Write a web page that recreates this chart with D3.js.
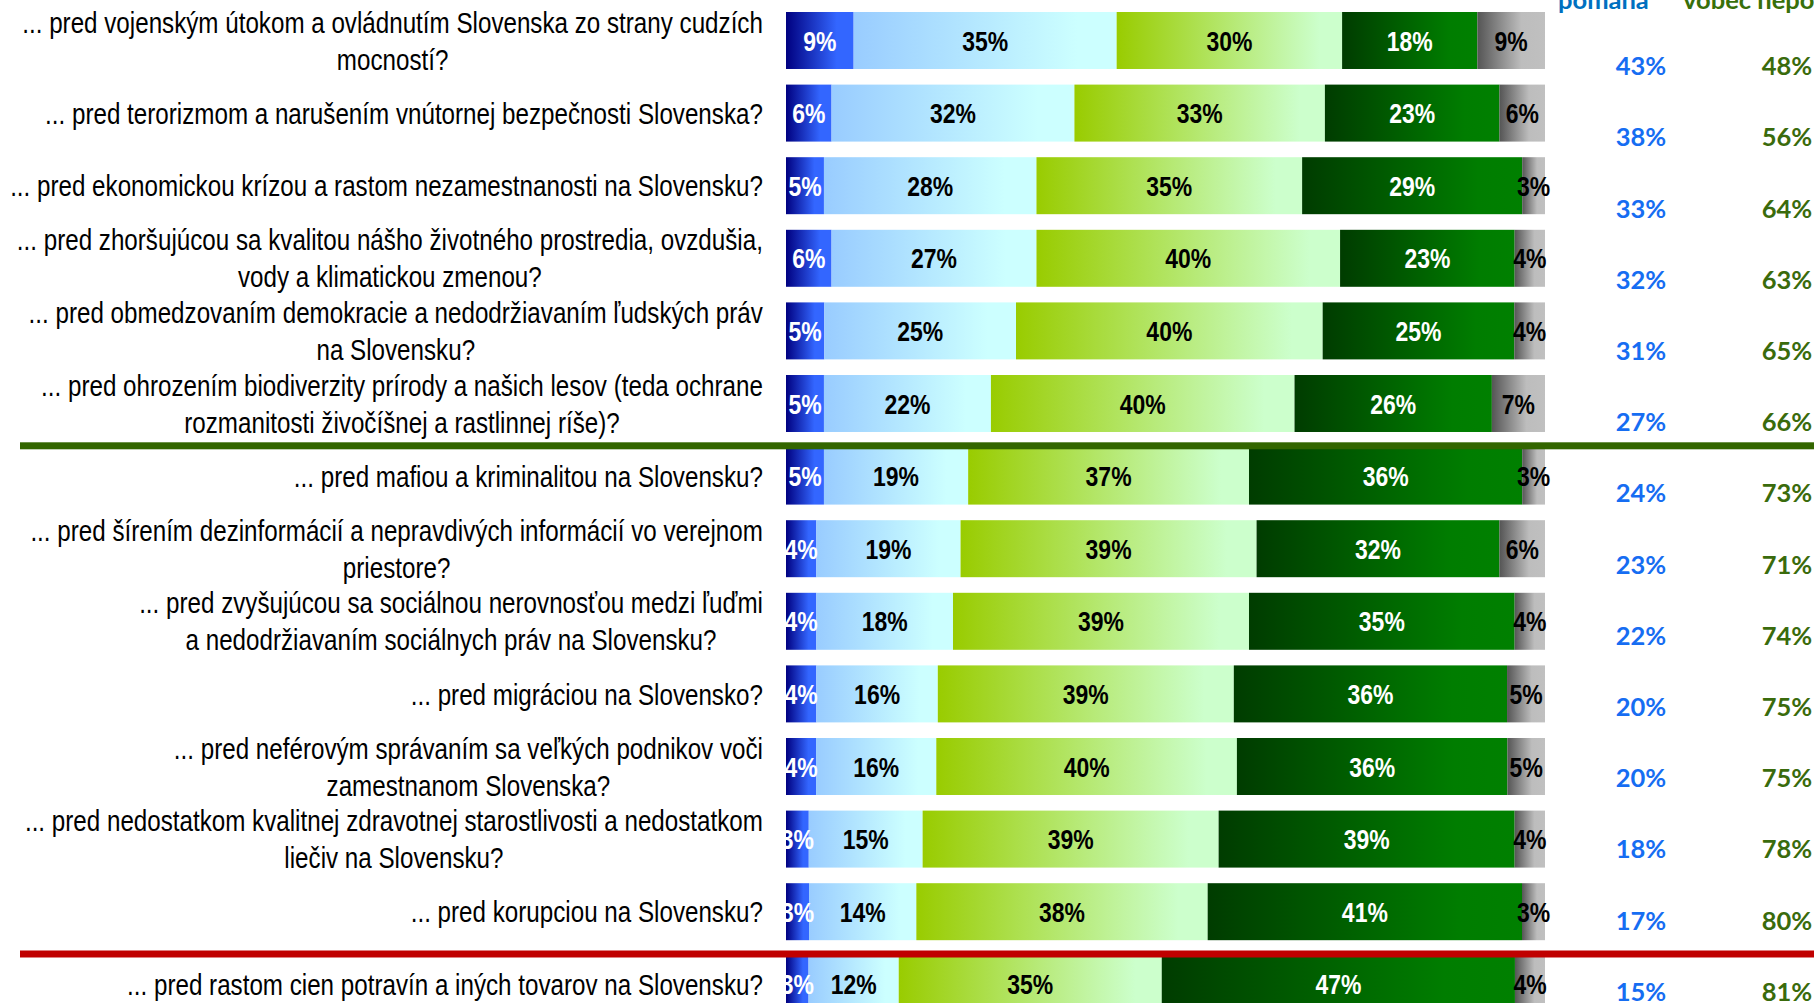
<!DOCTYPE html>
<html>
<head>
<meta charset="utf-8">
<script src="https://cdn.jsdelivr.net/npm/d3@7"></script>
<style>
  html, body { margin: 0; padding: 0; background: #fff; overflow: hidden; }
  svg { display: block; }
</style>
</head>
<body>
<div id="chart"></div>
<script>
// Data: categories (each label already split into its lines)
const categories = [
  ["... pred vojenským útokom a ovládnutím Slovenska zo strany cudzích", "mocností?"],
  ["... pred terorizmom a narušením vnútornej bezpečnosti Slovenska?"],
  ["... pred ekonomickou krízou a rastom nezamestnanosti na Slovensku?"],
  ["... pred zhoršujúcou sa kvalitou nášho životného prostredia, ovzdušia,", "vody a klimatickou zmenou?"],
  ["... pred obmedzovaním demokracie a nedodržiavaním ľudských práv", "na Slovensku?"],
  ["... pred ohrozením biodiverzity prírody a našich lesov (teda ochrane", "rozmanitosti živočíšnej a rastlinnej ríše)?"],
  ["... pred mafiou a kriminalitou na Slovensku?"],
  ["... pred šírením dezinformácií a nepravdivých informácií vo verejnom", "priestore?"],
  ["... pred zvyšujúcou sa sociálnou nerovnosťou medzi ľuďmi", "a nedodržiavaním sociálnych práv na Slovensku?"],
  ["... pred migráciou na Slovensko?"],
  ["... pred neférovým správaním sa veľkých podnikov voči", "zamestnanom Slovenska?"],
  ["... pred nedostatkom kvalitnej zdravotnej starostlivosti a nedostatkom", "liečiv na Slovensku?"],
  ["... pred korupciou na Slovensku?"],
  ["... pred rastom cien potravín a iných tovarov na Slovensku?"]
];

// Series values (%), one array per answer
const veryHelps    = [9, 6, 5, 6, 5, 5, 5, 4, 4, 4, 4, 3, 3, 3];
const ratherHelps  = [35, 32, 28, 27, 25, 22, 19, 19, 18, 16, 16, 15, 14, 12];
const ratherNot    = [30, 33, 35, 40, 40, 40, 37, 39, 39, 39, 40, 39, 38, 35];
const notAtAll     = [18, 23, 29, 23, 25, 26, 36, 32, 35, 36, 36, 39, 41, 47];
const dontKnow     = [9, 6, 3, 4, 4, 7, 3, 6, 4, 5, 5, 4, 3, 4];

// Summary columns on the right
const helpsTotal   = [43, 38, 33, 32, 31, 27, 24, 23, 22, 20, 20, 18, 17, 15];
const notHelpTotal = [48, 56, 64, 63, 65, 66, 73, 71, 74, 75, 75, 78, 80, 81];
const headers = ["pomáha", "vôbec nepomáha"];

// Rows after which a divider line is drawn
const dividerAfter = [5, 12];

const width = 1814, height = 1003;
// Arial Narrow is Arial squeezed to 82 %, so squeeze Liberation Sans the same way
const narrow = 0.82;
const narrowFont = "'Liberation Sans', Arial, sans-serif";

const svg = d3.select("#chart").append("svg")
  .attr("width", width)
  .attr("height", height);

// **Gradients, one per series
const seriesDefs = [
  { key: "a", values: veryHelps,   stops: [["0%", "#000080"], ["75%", "#3366ff"], ["100%", "#3366ff"]], text: "#ffffff" },
  { key: "b", values: ratherHelps, stops: [["0%", "#99ccff"], ["85%", "#ccffff"], ["100%", "#ccffff"]], text: "#000000" },
  { key: "c", values: ratherNot,   stops: [["0%", "#99cc00"], ["90%", "#ccffcc"], ["100%", "#ccffcc"]], text: "#000000" },
  { key: "d", values: notAtAll,    stops: [["0%", "#003c00"], ["80%", "#007d00"], ["100%", "#008000"]], text: "#ffffff" },
  { key: "e", values: dontKnow,    stops: [["0%", "#555555"], ["65%", "#bdbdbd"], ["100%", "#c0c0c0"]], text: "#000000" }
];

const defs = svg.append("defs");
seriesDefs.forEach(s => {
  const g = defs.append("linearGradient")
    .attr("id", "grad-" + s.key)
    .attr("x1", "0%").attr("x2", "100%")
    .attr("y1", "0%").attr("y2", "0%");
  s.stops.forEach(st => g.append("stop").attr("offset", st[0]).attr("stop-color", st[1]));
});

// **Scales
const rowIds = categories.map((c, i) => i);
const step = 72.6;
const y = d3.scaleBand()
  .domain(rowIds)
  .range([12 - 0.1075 * step, 12 - 0.1075 * step + rowIds.length * step])
  .paddingInner(0.215)
  .paddingOuter(0.1075);

const x = d3.scaleLinear().domain([0, 1]).range([786, 1545]);

const ySummary = d3.scalePoint().domain(rowIds).range([66, 991.6]);

// Build stacked, normalised rows
const rows = rowIds.map(i => {
  const vals = seriesDefs.map(s => s.values[i]);
  const total = d3.sum(vals);
  let acc = 0;
  return seriesDefs.map((s, k) => {
    const seg = { row: i, s: s, value: vals[k], x0: acc / total, x1: (acc + vals[k]) / total };
    acc += vals[k];
    return seg;
  });
});
const segments = rows.flat();

// **Bars
svg.append("g").selectAll("rect")
  .data(segments)
  .enter()
  .append("rect")
  .attr("x", d => x(d.x0))
  .attr("width", d => x(d.x1) - x(d.x0))
  .attr("y", d => y(d.row))
  .attr("height", y.bandwidth())
  .attr("fill", d => "url(#grad-" + d.s.key + ")");

// **Segment labels
svg.append("g").selectAll("text")
  .data(segments)
  .enter()
  .append("text")
  .attr("transform", d => `translate(${(x(d.x0) + x(d.x1)) / 2},${y(d.row) + y.bandwidth() / 2}) scale(${narrow},1)`)
  .attr("dy", "0.36em")
  .attr("text-anchor", "middle")
  .attr("font-family", narrowFont)
  .attr("font-weight", "bold")
  .attr("font-size", 28)
  .attr("fill", d => d.s.text)
  .text(d => d.value + "%");

// **Category labels: block right-aligned, lines centred inside the block
const labelRight = 763;
const lineGap = 37;
const labelG = svg.append("g");
categories.forEach((lines, i) => {
  const g = labelG.append("g");
  const cy = y(i) + y.bandwidth() / 2;
  const texts = lines.map((ln, k) => g.append("text")
    .attr("font-family", narrowFont)
    .attr("font-size", 29.5)
    .attr("fill", "#000")
    .attr("text-anchor", "middle")
    .attr("dy", "0.36em")
    .text(ln)
    .datum(cy + (k - (lines.length - 1) / 2) * lineGap));
  const maxW = d3.max(texts, t => t.node().getComputedTextLength()) * narrow;
  texts.forEach(t => t.attr("transform", `translate(${labelRight - maxW / 2},${t.datum()}) scale(${narrow},1)`));
});

// **Divider lines
const dividerColors = ["#336600", "#c00000"];
svg.append("g").selectAll("rect")
  .data(dividerAfter)
  .enter()
  .append("rect")
  .attr("x", 20)
  .attr("width", width - 20)
  .attr("y", d => (y(d) + y.bandwidth() + y(d + 1)) / 2 - 3.5 + 6)
  .attr("height", 7)
  .attr("fill", (d, i) => dividerColors[i]);

// **Right summary columns
const sumFont = "Lato, 'Open Sans', sans-serif";
svg.append("g").selectAll("text")
  .data(rowIds)
  .enter()
  .append("text")
  .attr("x", 1641)
  .attr("y", d => ySummary(d))
  .attr("dy", "0.36em")
  .attr("text-anchor", "middle")
  .attr("font-family", sumFont)
  .attr("font-weight", "bold")
  .attr("font-size", 25.5)
  .attr("fill", "#166df2")
  .text(d => helpsTotal[d] + "%");

svg.append("g").selectAll("text")
  .data(rowIds)
  .enter()
  .append("text")
  .attr("x", 1787)
  .attr("y", d => ySummary(d))
  .attr("dy", "0.36em")
  .attr("text-anchor", "middle")
  .attr("font-family", sumFont)
  .attr("font-weight", "bold")
  .attr("font-size", 25.5)
  .attr("fill", "#3a6b0c")
  .text(d => notHelpTotal[d] + "%");

// Column headers (only their lower part is visible)
svg.append("text")
  .attr("x", 1558).attr("y", 9)
  .attr("font-family", sumFont).attr("font-weight", "bold").attr("font-size", 25.5)
  .attr("fill", "#0070c0")
  .text(headers[0]);
svg.append("text")
  .attr("x", 1683).attr("y", 9)
  .attr("font-family", sumFont).attr("font-weight", "bold").attr("font-size", 25.5)
  .attr("fill", "#38700a")
  .text(headers[1]);
</script>
</body>
</html>
